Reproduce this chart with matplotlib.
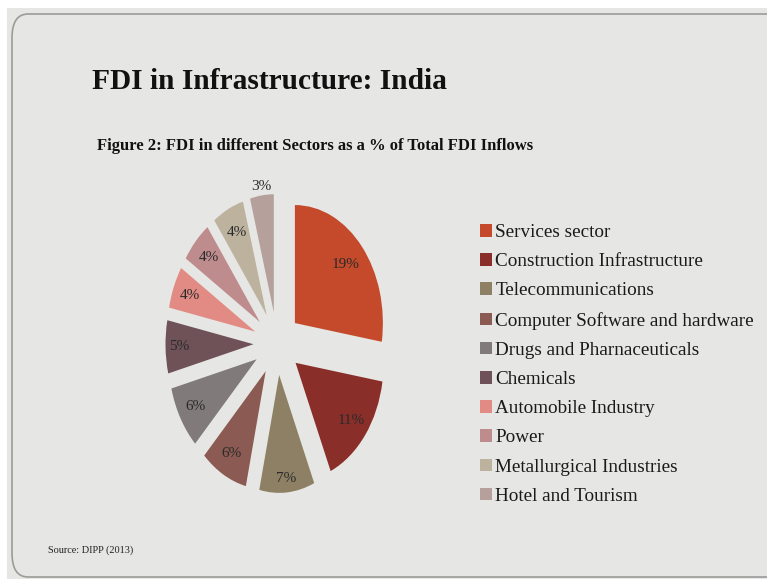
import numpy as np
import matplotlib
matplotlib.use("Agg")
import matplotlib.pyplot as plt
from matplotlib.patches import FancyBboxPatch, Rectangle

# ---------------- data ----------------
sectors = ["Services sector", "Construction Infrastructure", "Telecommunications",
           "Computer Software and hardware", "Drugs and Pharnaceuticals", "Chemicals",
           "Automobile Industry", "Power", "Metallurgical Industries", "Hotel and Tourism"]
shares = [19, 11, 7, 6, 6, 5, 4, 4, 4, 3]
colors = ["#c44a2b", "#8a2e2a", "#8d8064", "#8b5a52", "#817a7b",
          "#6f5257", "#e18b84", "#bf8c8e", "#bdb29e", "#b5a09b"]

title = "FDI in Infrastructure: India"
subtitle = "Figure 2: FDI in different Sectors as a % of Total FDI Inflows"
source = "Source: DIPP (2013)"

# ---------------- figure ----------------
W, H = 767, 579
fig = plt.figure(figsize=(W / 100, H / 100), dpi=100)
fig.patch.set_facecolor("white")
serif = "Liberation Serif"

# background axes in pixel coordinates
bg = fig.add_axes([0, 0, 1, 1], zorder=0)
bg.set_xlim(0, W)
bg.set_ylim(H, 0)
bg.axis("off")
bg.add_patch(Rectangle((7, 8), W, H, facecolor="#e6e7e4", edgecolor="none"))
bg.add_patch(FancyBboxPatch((12, 14), W + 30, 563,
                            boxstyle="round,pad=0,rounding_size=16",
                            mutation_aspect=1.5,
                            facecolor="#e6e7e4", edgecolor="#9a9c99", linewidth=1.2))

bg.text(92, 89, title, fontfamily=serif, fontweight="bold", fontsize=21.2,
        color="#111111", va="baseline", ha="left")
bg.text(97, 150, subtitle, fontfamily=serif, fontweight="bold", fontsize=12,
        color="#111111", va="baseline", ha="left")
bg.text(48, 553, source, fontfamily=serif, fontsize=7.4,
        color="#222222", va="baseline", ha="left")

# ---------------- pie ----------------
cxp, cyp, rx, ry, k = 277, 343.5, 88, 118, 1.6
ax = fig.add_axes([(cxp - k * rx) / W, (H - cyp - k * ry) / H,
                   2 * k * rx / W, 2 * k * ry / H], zorder=1)
wedges, _ = ax.pie(shares, colors=colors, startangle=90, counterclock=False,
                   explode=[0.267] * len(shares),
                   wedgeprops=dict(linewidth=0))
ax.set_aspect("auto")
ax.set_xlim(-k, k)
ax.set_ylim(-k, k)
ax.axis("off")

lbl_r = [0.76, 0.8, 0.88, 0.8, 0.8, 0.84, 0.8, 0.8, 0.78, 1.08]
for w, v, r in zip(wedges, shares, lbl_r):
    mid = np.deg2rad((w.theta1 + w.theta2) / 2)
    x0, y0 = w.center
    ax.text(x0 + r * np.cos(mid), y0 + r * np.sin(mid), f"{v}%",
            fontfamily=serif, fontsize=11, color="#2a2a2a",
            ha="center", va="center")

# ---------------- legend ----------------
fig.legend(wedges, sectors, loc="upper left",
           bbox_to_anchor=(480 / W, 1 - 224 / H),
           frameon=False, prop=dict(family=serif, size=13.75),
           handlelength=0.63, handleheight=0.63, handletextpad=0.18,
           labelspacing=0.64, borderpad=0, borderaxespad=0,
           labelcolor="#1a1a1a")

fig.savefig("out.png", dpi=100, facecolor=fig.get_facecolor())
